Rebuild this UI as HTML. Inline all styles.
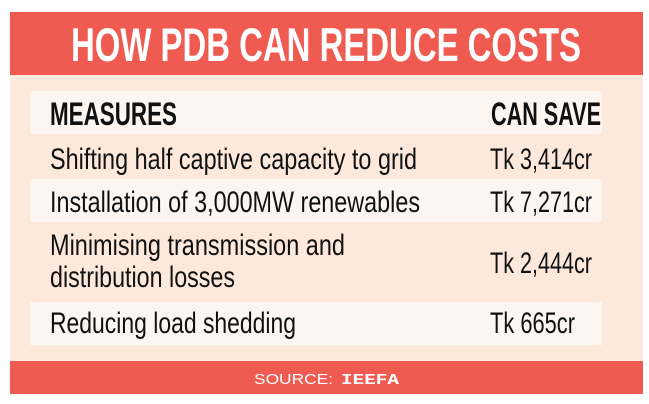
<!DOCTYPE html>
<html><head><meta charset="utf-8"><style>
html,body{margin:0;padding:0;background:#fff;width:649px;height:404px;overflow:hidden}
</style></head><body>
<svg width="649" height="404" xmlns="http://www.w3.org/2000/svg" font-family="Liberation Sans, sans-serif">
<rect x="10" y="12" width="633" height="382" fill="#FDE9DC"/>
<rect x="10" y="12" width="633" height="63" fill="#F05B51"/>
<rect x="10" y="361" width="633" height="33" fill="#F05B51"/>
<rect x="30" y="91" width="572" height="43" fill="#FDF6F0"/>
<rect x="30" y="179" width="572" height="43" fill="#FDF6F0"/>
<rect x="30" y="302" width="572" height="43" fill="#FDF6F0"/>
<text x="71" y="61" font-size="47" font-weight="bold" fill="#fff" textLength="510" lengthAdjust="spacingAndGlyphs">HOW PDB CAN REDUCE COSTS</text>
<g font-weight="bold" font-size="32" fill="#111">
<text x="50" y="125" textLength="127" lengthAdjust="spacingAndGlyphs">MEASURES</text>
<text x="491" y="125" textLength="110" lengthAdjust="spacingAndGlyphs">CAN SAVE</text>
</g>
<g font-size="30" fill="#111">
<text x="50" y="169" textLength="367" lengthAdjust="spacingAndGlyphs">Shifting half captive capacity to grid</text>
<text x="490" y="169" textLength="102" lengthAdjust="spacingAndGlyphs">Tk 3,414cr</text>
<text x="50" y="212" textLength="370" lengthAdjust="spacingAndGlyphs">Installation of 3,000MW renewables</text>
<text x="490" y="212" textLength="102" lengthAdjust="spacingAndGlyphs">Tk 7,271cr</text>
<text x="50" y="255" textLength="295" lengthAdjust="spacingAndGlyphs">Minimising transmission and</text>
<text x="50" y="287" textLength="185" lengthAdjust="spacingAndGlyphs">distribution losses</text>
<text x="490" y="273" textLength="102" lengthAdjust="spacingAndGlyphs">Tk 2,444cr</text>
<text x="50" y="333" textLength="246" lengthAdjust="spacingAndGlyphs">Reducing load shedding</text>
<text x="490" y="333" textLength="85" lengthAdjust="spacingAndGlyphs">Tk 665cr</text>
</g>
<text x="254" y="384" font-size="15" fill="#fff" textLength="79" lengthAdjust="spacingAndGlyphs">SOURCE:</text>
<text x="341" y="384" font-size="15" font-weight="bold" fill="#fff" font-family="Liberation Mono, monospace" textLength="58" lengthAdjust="spacingAndGlyphs">IEEFA</text>
</svg>
</body></html>
